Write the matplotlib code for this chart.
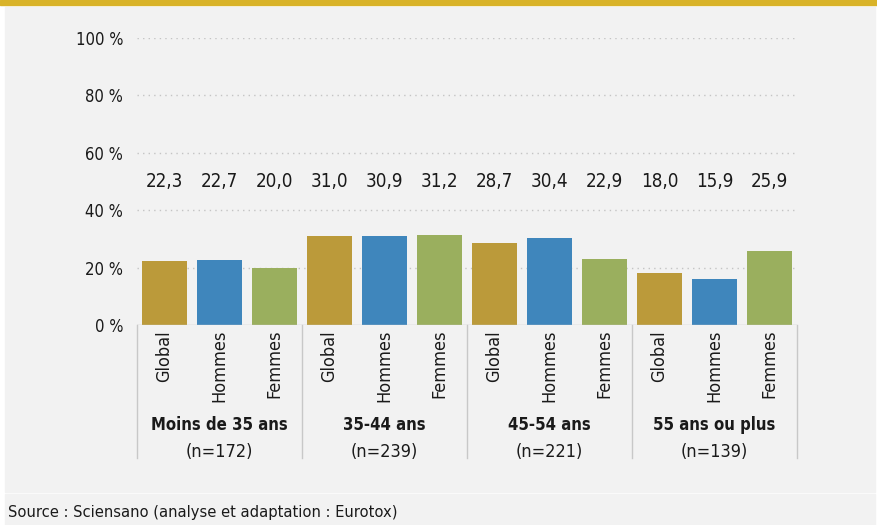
import matplotlib.pyplot as plt
from matplotlib.patches import Rectangle

plt.rcParams['font.family'] = ['DejaVu Sans']
plt.rcParams['font.stretch'] = 'condensed'

groups = ["Moins de 35 ans", "35-44 ans", "45-54 ans", "55 ans ou plus"]
sizes = ["(n=172)", "(n=239)", "(n=221)", "(n=139)"]
sub_labels = ["Global", "Hommes", "Femmes"]
values = [
    [22.3, 22.7, 20.0],
    [31.0, 30.9, 31.2],
    [28.7, 30.4, 22.9],
    [18.0, 15.9, 25.9],
]
colors = ["#bb9a3a", "#3f86bc", "#9aaf5e"]
yticks = [0, 20, 40, 60, 80, 100]

W, H = 877, 525
bg = "#f2f2f2"
fig = plt.figure(figsize=(W / 100, H / 100), dpi=100)
fig.patch.set_facecolor("white")

# grey panels and gold band
fig.add_artist(Rectangle((5 / W, 1 - 492 / H), 870 / W, 485 / H,
                         transform=fig.transFigure, color=bg, zorder=0))
fig.add_artist(Rectangle((5 / W, 0), 870 / W, 31 / H,
                         transform=fig.transFigure, color=bg, zorder=0))
fig.add_artist(Rectangle((0, 1 - 5 / H), 1, 5 / H,
                         transform=fig.transFigure, color="#d9b328", zorder=1))

ax = fig.add_axes([137 / W, 1 - 325 / H, 660 / W, 287 / H])
ax.set_facecolor("none")

x = 0
for g, vals in enumerate(values):
    for i, v in enumerate(vals):
        ax.bar(x, v, width=0.82, color=colors[i], zorder=3)
        ax.text(x, 50, f"{v:.1f}".replace(".", ","), ha="center", va="center",
                fontsize=13.5, color="#1a1a1a")
        ax.text(x, -0.017, sub_labels[i], transform=ax.get_xaxis_transform(),
                rotation=90, ha="center", va="top", fontsize=13, color="#1a1a1a")
        x += 1
    cx = g * 3 + 1
    ax.text(cx, -0.348, groups[g], transform=ax.get_xaxis_transform(),
            ha="center", va="center", fontsize=12, fontweight="bold", color="#1a1a1a")
    ax.text(cx, -0.443, sizes[g], transform=ax.get_xaxis_transform(),
            ha="center", va="center", fontsize=13, color="#1a1a1a")

trans = ax.get_xaxis_transform()
for sx in [-0.5, 2.5, 5.5, 8.5, 11.5]:
    ax.plot([sx, sx], [0, -0.463], transform=trans, color="#c8c8c8",
            lw=1, clip_on=False)
ax.axhline(0, color="#c8c8c8", lw=1, zorder=4)

ax.set_xlim(-0.5, 11.5)
ax.set_ylim(0, 100)
ax.set_yticks(yticks)
ax.set_yticklabels([f"{t} %" for t in yticks], fontsize=12, color="#1a1a1a")
ax.tick_params(axis="y", length=0, pad=10)
ax.set_xticks([])
for t in yticks[1:]:
    ax.axhline(t, color="#c4c4c4", lw=1, linestyle=(0, (1, 3)), zorder=1)
for s in ax.spines.values():
    s.set_visible(False)

fig.text(8 / W, 1 - 512 / H, "Source : Sciensano (analyse et adaptation : Eurotox)",
         ha="left", va="center", fontsize=11.8, color="#1a1a1a")

fig.savefig("out.png", dpi=100, facecolor=fig.get_facecolor())
